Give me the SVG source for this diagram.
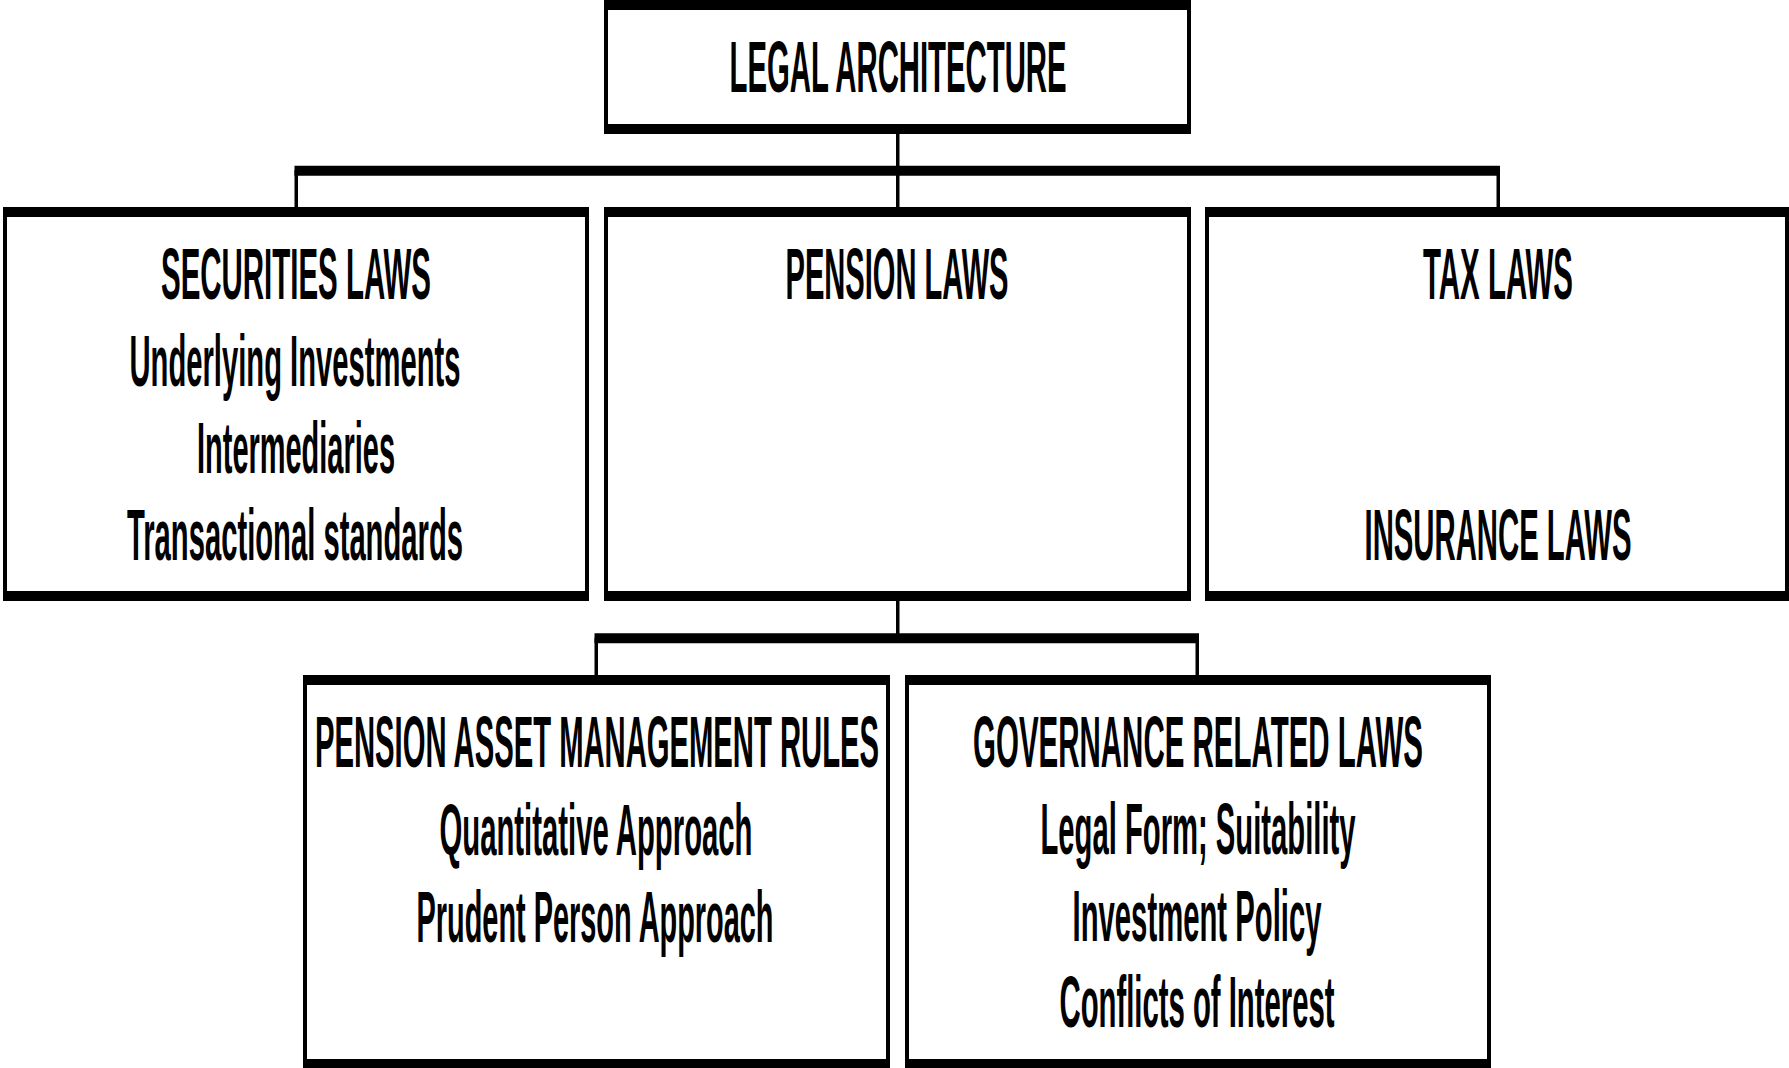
<svg xmlns="http://www.w3.org/2000/svg" width="1789" height="1068" viewBox="0 0 1789 1068">
  <style>
    .frame { fill: #000; }
    .face { fill: #fff; }
    .lbl { font-family: "Liberation Sans", Arial, sans-serif; font-weight: bold; font-size: 72px; fill: #000; text-anchor: middle; }
    .h { stroke: #000; stroke-width: 10; fill: none; }
    .v { stroke: #000; stroke-width: 3.5; fill: none; }
  </style>
  <rect x="0" y="0" width="1789" height="1068" fill="#fff"/>

  <!-- connectors -->
  <g id="connectors">
    <line class="v" x1="897.75" y1="134" x2="897.75" y2="207"/>
    <line class="h" x1="294.5" y1="170.7" x2="1500" y2="170.7"/>
    <line class="v" x1="296.25" y1="170" x2="296.25" y2="207"/>
    <line class="v" x1="1498.25" y1="170" x2="1498.25" y2="207"/>
    <line class="v" x1="897.75" y1="601" x2="897.75" y2="643"/>
    <line class="h" x1="594.5" y1="638.3" x2="1199" y2="638.3"/>
    <line class="v" x1="596.25" y1="638" x2="596.25" y2="675"/>
    <line class="v" x1="1197.25" y1="638" x2="1197.25" y2="675"/>
  </g>

  <!-- root -->
  <g id="legal-architecture">
    <rect class="frame" x="604" y="0" width="587" height="134"/>
    <rect class="face" x="608" y="10" width="579" height="114"/>
    <text class="lbl" x="898" y="92" textLength="337" lengthAdjust="spacingAndGlyphs">LEGAL ARCHITECTURE</text>
  </g>

  <g id="securities-laws">
    <rect class="frame" x="3" y="207" width="586" height="394"/>
    <rect class="face" x="7" y="217" width="578" height="374"/>
    <text class="lbl" x="296" y="299" textLength="270" lengthAdjust="spacingAndGlyphs">SECURITIES LAWS</text>
    <text class="lbl" x="295" y="386" textLength="331" lengthAdjust="spacingAndGlyphs">Underlying Investments</text>
    <text class="lbl" x="296" y="473" textLength="198" lengthAdjust="spacingAndGlyphs">Intermediaries</text>
    <text class="lbl" x="295" y="560" textLength="336" lengthAdjust="spacingAndGlyphs">Transactional standards</text>
  </g>

  <g id="pension-laws">
    <rect class="frame" x="604" y="207" width="587" height="394"/>
    <rect class="face" x="608" y="217" width="579" height="374"/>
    <text class="lbl" x="897" y="299" textLength="223" lengthAdjust="spacingAndGlyphs">PENSION LAWS</text>
  </g>

  <g id="tax-laws">
    <rect class="frame" x="1205" y="207" width="584" height="394"/>
    <rect class="face" x="1209" y="217" width="576" height="374"/>
    <text class="lbl" x="1498" y="299" textLength="150" lengthAdjust="spacingAndGlyphs">TAX LAWS</text>
    <text class="lbl" x="1498" y="560" textLength="267" lengthAdjust="spacingAndGlyphs">INSURANCE LAWS</text>
  </g>

  <g id="pension-asset-management-rules">
    <rect class="frame" x="303" y="675" width="587" height="394"/>
    <rect class="face" x="307" y="685" width="579" height="374"/>
    <text class="lbl" x="597" y="767" textLength="564" lengthAdjust="spacingAndGlyphs">PENSION ASSET MANAGEMENT RULES</text>
    <text class="lbl" x="596" y="855" textLength="313" lengthAdjust="spacingAndGlyphs">Quantitative Approach</text>
    <text class="lbl" x="595" y="942" textLength="357" lengthAdjust="spacingAndGlyphs">Prudent Person Approach</text>
  </g>

  <g id="governance-related-laws">
    <rect class="frame" x="905" y="675" width="586" height="394"/>
    <rect class="face" x="909" y="685" width="578" height="374"/>
    <text class="lbl" x="1198" y="767" textLength="450" lengthAdjust="spacingAndGlyphs">GOVERNANCE RELATED LAWS</text>
    <text class="lbl" x="1198" y="854" textLength="315" lengthAdjust="spacingAndGlyphs">Legal Form; Suitability</text>
    <text class="lbl" x="1197" y="941" textLength="249" lengthAdjust="spacingAndGlyphs">Investment Policy</text>
    <text class="lbl" x="1197" y="1027" textLength="275" lengthAdjust="spacingAndGlyphs">Conflicts of Interest</text>
  </g>
</svg>
